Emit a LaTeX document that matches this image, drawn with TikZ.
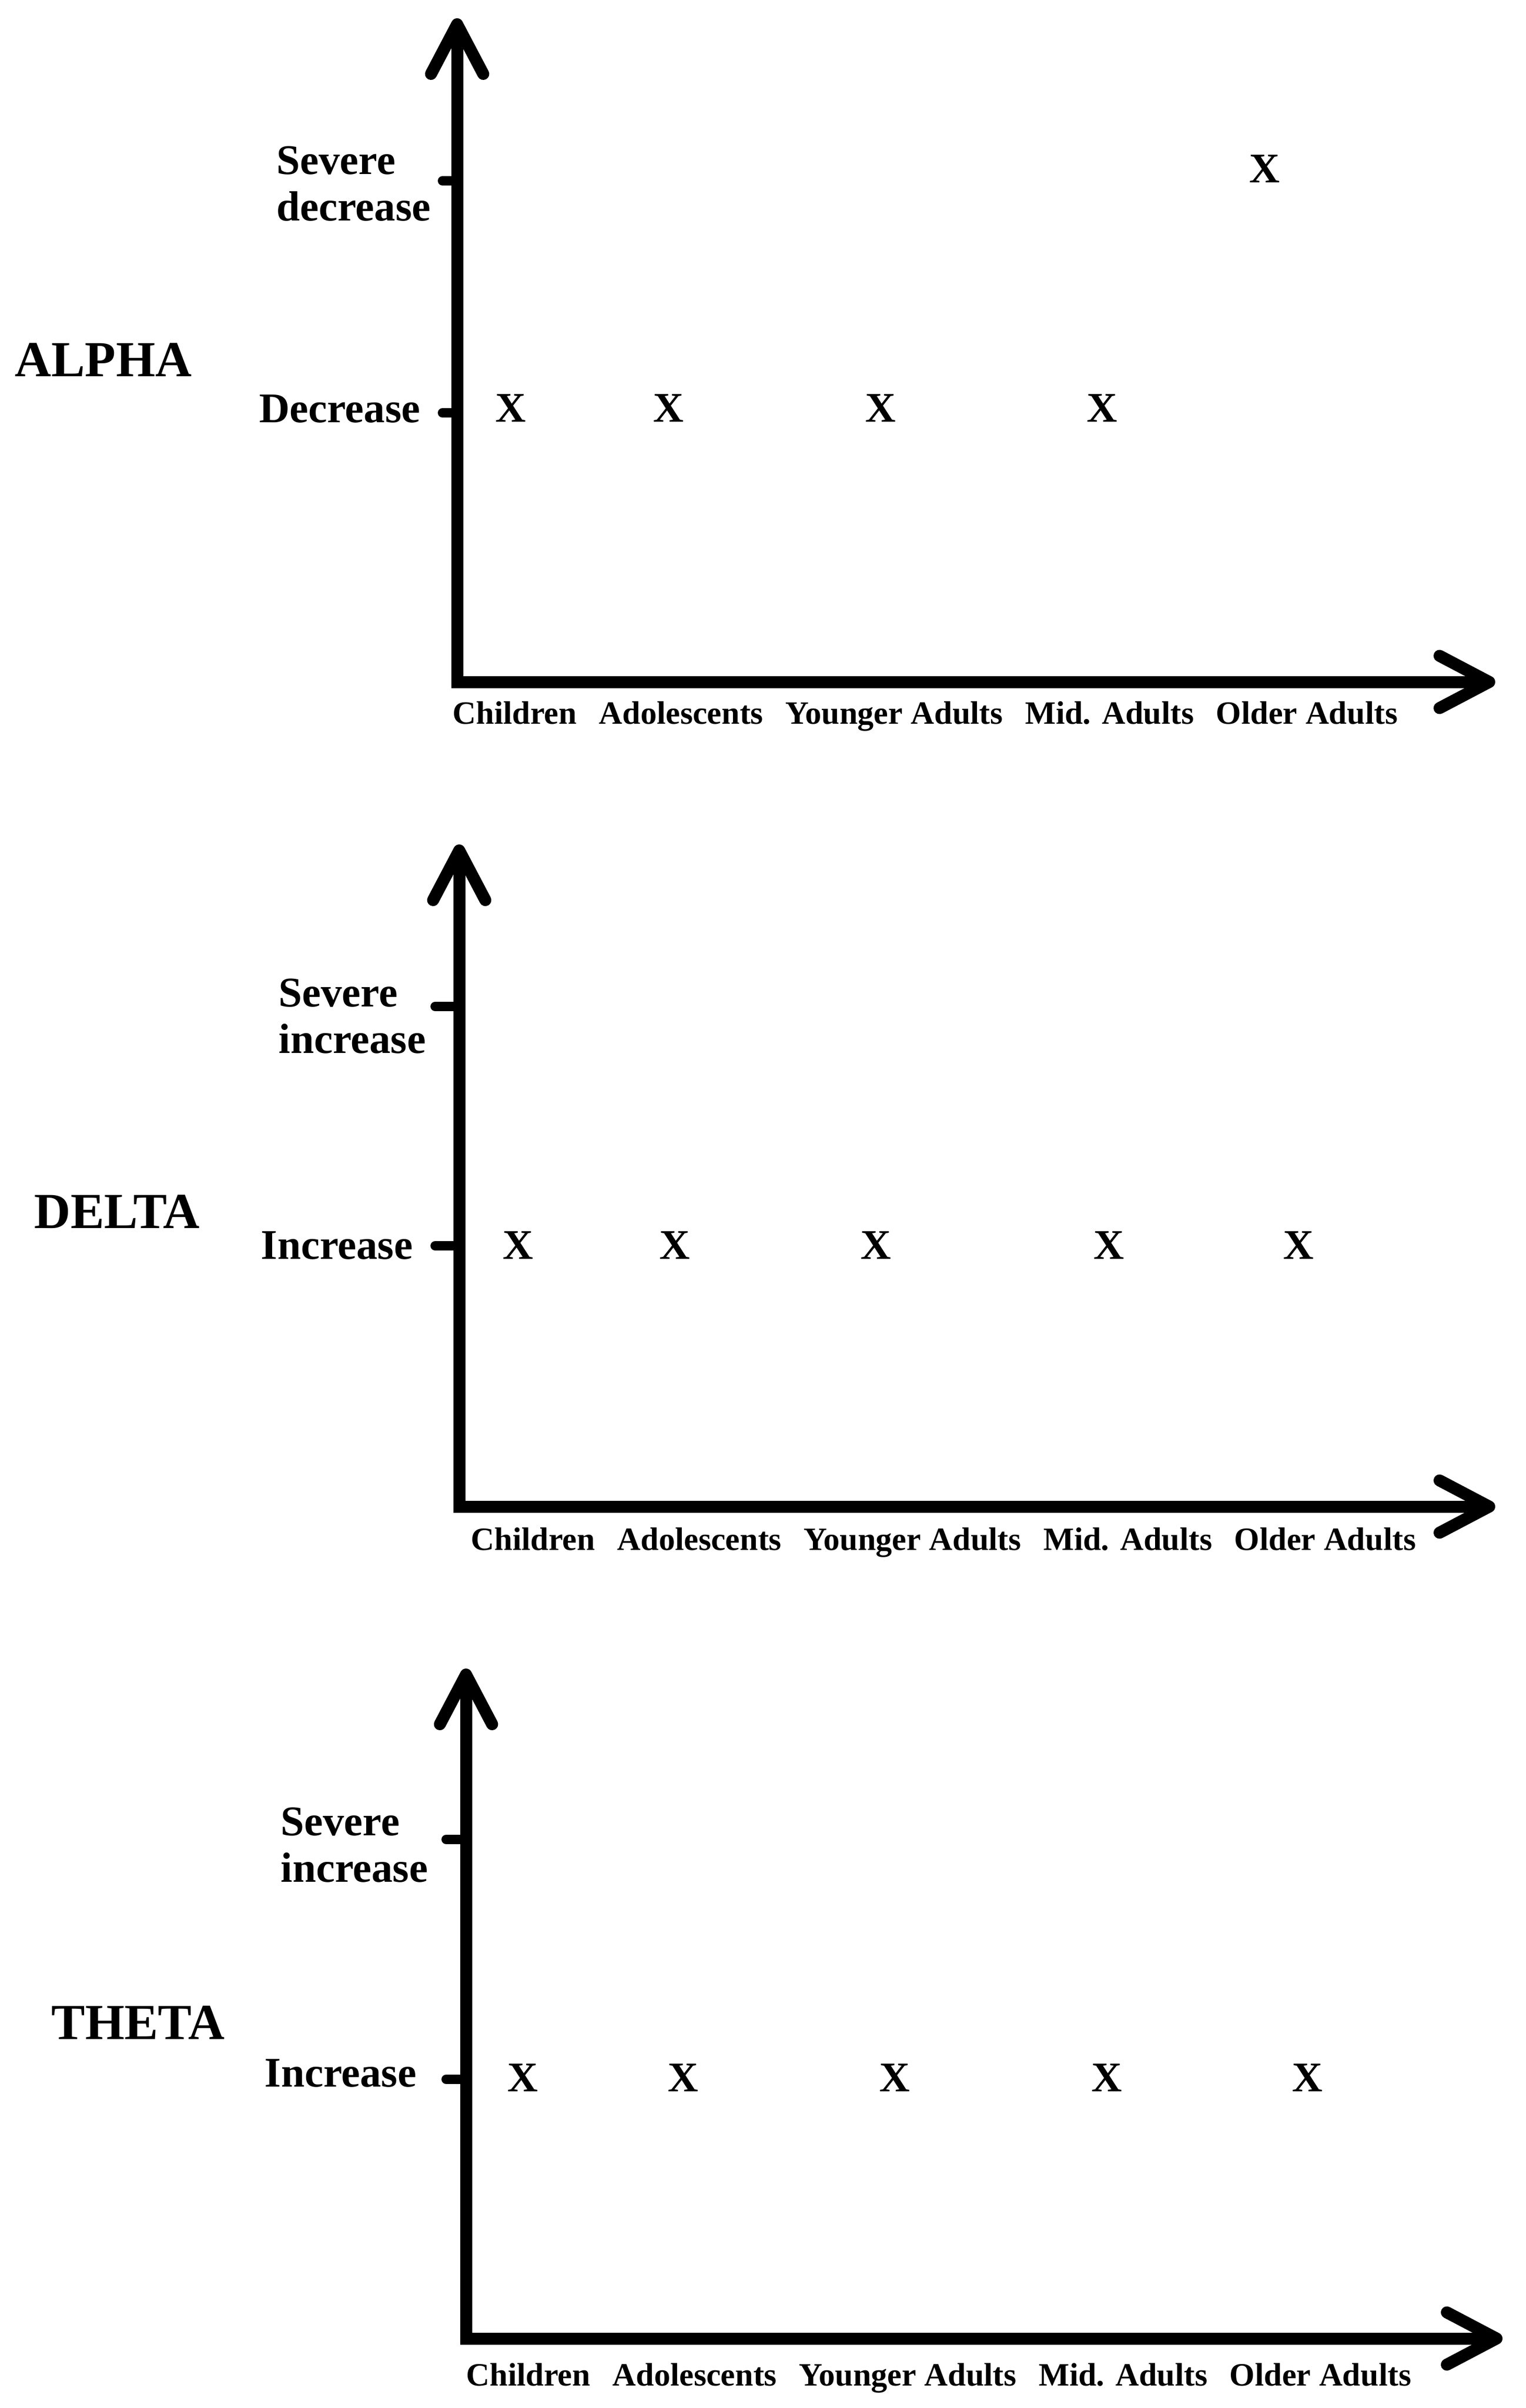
\documentclass[tikz,border=0pt]{standalone}
\usepackage{fontspec}
\setmainfont{Liberation Serif}
\usetikzlibrary{positioning,arrows.meta}

\begin{document}
\begin{tikzpicture}[node distance=0.41cm,
    axis line/.style={line width=0.23cm, {Straight Barb[length=0.95cm,width=1cm,round]}-{Straight Barb[length=0.95cm,width=1cm,round]}},
    tick line/.style={line width=0.18cm, line cap=round},
    wave label/.style={inner sep=0pt, font=\fontsize{27.5}{30}\selectfont\bfseries},
    tick text/.style={inner sep=0pt, font=\fontsize{23}{25.3}\selectfont\bfseries},
    x mark/.style={inner sep=0pt, font=\fontsize{23}{25}\selectfont\bfseries},
    age label/.style={inner sep=0pt, font=\fontsize{17.7}{20}\selectfont\bfseries}]

\useasboundingbox (0,0) rectangle (29.2,-46.08);

% ALPHA
\coordinate (top1) at (8.75,-0.35);
\coordinate (o1) at (8.75,-13.05);
\coordinate (end1) at (28.62,-13.05);
\draw[axis line] (top1) -- (o1) -- (end1);
\draw[tick line] (8.75,-3.46) -- (8.47,-3.46);
\draw[tick line] (8.75,-7.90) -- (8.47,-7.90);
\node[wave label, anchor=west] (alpha) at (0.28,-6.89) {ALPHA};
\node[tick text, anchor=west, align=left] (sev1) at (5.29,-3.52) {Severe\\decrease};
\node[tick text, anchor=east] (lev1) at (8.05,-7.82) {Decrease};
\foreach \x [count=\i] in {9.78,12.80,16.86,21.10}
  \node[x mark] (m1\i) at (\x,-7.81) {X};
\node[x mark] (m15) at (24.21,-3.23) {X};
\node[age label, anchor=base west] (child1) at (8.66,-13.85) {Children};
\node[age label, base right=of child1] (adol1) {Adolescents};
\node[age label, base right=of adol1] (young1) {Younger Adults};
\node[age label, base right=of young1] (mid1) {Mid. Adults};
\node[age label, base right=of mid1] (old1) {Older Adults};

% DELTA
\coordinate (top2) at (8.79,-16.16);
\coordinate (o2) at (8.79,-28.83);
\coordinate (end2) at (28.62,-28.83);
\draw[axis line] (top2) -- (o2) -- (end2);
\draw[tick line] (8.79,-19.26) -- (8.33,-19.26);
\draw[tick line] (8.79,-23.84) -- (8.33,-23.84);
\node[wave label, anchor=west] (delta) at (0.65,-23.19) {DELTA};
\node[tick text, anchor=west, align=left] (sev2) at (5.33,-19.45) {Severe\\increase};
\node[tick text, anchor=east] (lev2) at (7.91,-23.83) {Increase};
\foreach \x [count=\i] in {9.92,12.92,16.77,21.23,24.86}
  \node[x mark] (m2\i) at (\x,-23.83) {X};
\node[age label, anchor=base west] (child2) at (9.01,-29.66) {Children};
\node[age label, base right=of child2] (adol2) {Adolescents};
\node[age label, base right=of adol2] (young2) {Younger Adults};
\node[age label, base right=of young2] (mid2) {Mid. Adults};
\node[age label, base right=of mid2] (old2) {Older Adults};

% THETA
\coordinate (top3) at (8.92,-31.93);
\coordinate (o3) at (8.92,-44.75);
\coordinate (end3) at (28.76,-44.75);
\draw[axis line] (top3) -- (o3) -- (end3);
\draw[tick line] (8.92,-35.20) -- (8.54,-35.20);
\draw[tick line] (8.92,-39.79) -- (8.54,-39.79);
\node[wave label, anchor=west] (theta) at (0.98,-38.71) {THETA};
\node[tick text, anchor=west, align=left] (sev3) at (5.37,-35.31) {Severe\\increase};
\node[tick text, anchor=east] (lev3) at (7.98,-39.67) {Increase};
\foreach \x [count=\i] in {10.01,13.08,17.13,21.19,25.03}
  \node[x mark] (m3\i) at (\x,-39.76) {X};
\node[age label, anchor=base west] (child3) at (8.92,-45.65) {Children};
\node[age label, base right=of child3] (adol3) {Adolescents};
\node[age label, base right=of adol3] (young3) {Younger Adults};
\node[age label, base right=of young3] (mid3) {Mid. Adults};
\node[age label, base right=of mid3] (old3) {Older Adults};
\end{tikzpicture}
\end{document}
